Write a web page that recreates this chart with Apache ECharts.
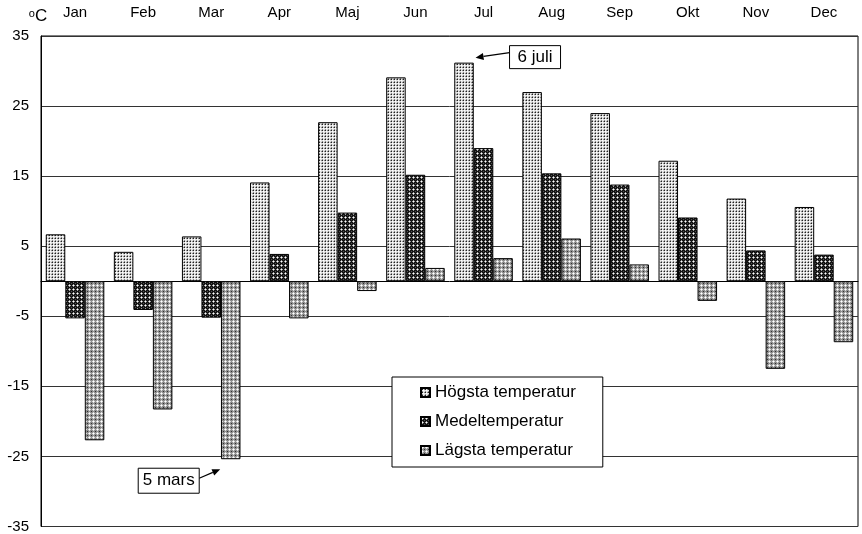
<!DOCTYPE html>
<html>
<head>
<meta charset="utf-8">
<script src="https://cdn.jsdelivr.net/npm/echarts@6/dist/echarts.min.js"></script>
<style>
html,body{margin:0;padding:0;background:#fff;}
#chart{width:862px;height:534px;}
</style>
</head>
<body>
<div id="chart"></div>
<script>
const months = ['Jan','Feb','Mar','Apr','Maj','Jun','Jul','Aug','Sep','Okt','Nov','Dec'];
const highTemp = [6.7, 4.2, 6.4, 14.1, 22.7, 29.1, 31.2, 27.0, 24.0, 17.2, 11.8, 10.6];
const meanTemp = [-5.3, -4.1, -5.2, 3.9, 9.8, 15.2, 19.0, 15.4, 13.8, 9.1, 4.4, 3.8];
const lowTemp = [-22.7, -18.3, -25.4, -5.3, -1.4, 1.9, 3.3, 6.1, 2.4, -2.8, -12.5, -8.7];
const seriesNames = ['Högsta temperatur', 'Medeltemperatur', 'Lägsta temperatur'];
const yTicks = {min: -35, max: 35, interval: 10};
const notes = [
  {text: '6 juli', month: 'Jul', value: 31.2},
  {text: '5 mars', month: 'Mar', value: -25.4}
];

function makePattern(size, bg, pixels) {
  const c = document.createElement('canvas');
  c.width = size; c.height = size;
  const ctx = c.getContext('2d');
  ctx.fillStyle = bg;
  ctx.fillRect(0, 0, size, size);
  pixels.forEach(p => { ctx.fillStyle = p[2]; ctx.fillRect(p[0], p[1], 1, 1); });
  return {image: c, repeat: 'repeat'};
}
const patHigh = makePattern(3, '#e4e4e4', [[1,1,'#222222'],[0,1,'#8c8c8c'],[1,0,'#8c8c8c'],[2,2,'#ffffff']]);
const patMean = makePattern(4, '#141414', [[1,1,'#ffffff'],[0,1,'#a0a0a0'],[2,1,'#a0a0a0'],[1,0,'#a0a0a0'],[1,2,'#a0a0a0'],[3,3,'#505050']]);
const patLow = makePattern(4, '#8e8e8e', [[1,1,'#ffffff'],[0,1,'#dddddd'],[2,1,'#dddddd'],[1,0,'#dddddd'],[1,2,'#dddddd'],[3,3,'#303030']]);

const chart = echarts.init(document.getElementById('chart'), null, {renderer: 'canvas'});
const barStyle = (pat) => ({color: pat, borderColor: '#000', borderWidth: 1});

chart.setOption({
  animation: false,
  textStyle: {fontFamily: 'Arial, "Liberation Sans", sans-serif'},
  grid: {left: 41, right: 4, top: 36, bottom: 7, show: true, borderColor: '#000', borderWidth: 1, backgroundColor: 'transparent'},
  legend: {
    orient: 'vertical', left: 392, top: 377,
    backgroundColor: '#fff', borderColor: '#000', borderWidth: 1,
    padding: [7, 27, 8, 28],
    itemWidth: 9, itemHeight: 9, itemGap: 12,
    icon: 'rect',
    textStyle: {fontSize: 17, color: '#000', fontFamily: 'Arial, "Liberation Sans", sans-serif', padding: [0,0,0,0]},
    data: seriesNames
  },
  xAxis: {
    type: 'category', position: 'top', data: months,
    axisLine: {show: true, lineStyle: {color: '#000'}},
    axisTick: {show: false},
    axisLabel: {fontSize: 15, color: '#000', margin: 16}
  },
  yAxis: {
    type: 'value', min: yTicks.min, max: yTicks.max, interval: yTicks.interval,
    axisLine: {show: true, lineStyle: {color: '#000'}},
    axisTick: {show: false},
    axisLabel: {fontSize: 15, color: '#000', margin: 12},
    splitLine: {show: true, lineStyle: {color: '#333', width: 1}},
    name: '{o|o}{c|C}',
    nameLocation: 'end', nameGap: 11,
    nameTextStyle: {
      align: 'center', padding: [0, 6, 0, 0],
      rich: {
        o: {fontSize: 11, color: '#000', verticalAlign: 'top', padding: [0,0,6,0]},
        c: {fontSize: 17, color: '#000'}
      }
    }
  },
  series: [
    {name: seriesNames[0], type: 'bar', data: highTemp, itemStyle: barStyle(patHigh), barGap: '0%', barCategoryGap: '14%'},
    {name: seriesNames[1], type: 'bar', data: meanTemp, itemStyle: barStyle(patMean), barGap: '0%', barCategoryGap: '14%'},
    {name: seriesNames[2], type: 'bar', data: lowTemp, itemStyle: barStyle(patLow), barGap: '0%', barCategoryGap: '14%'}
  ]
});

function arrowGraphics(x1, y1, x2, y2) {
  const ang = Math.atan2(y2 - y1, x2 - x1);
  const len = 8, w = 3.5;
  const bx = x2 - len * Math.cos(ang), by = y2 - len * Math.sin(ang);
  const px = -Math.sin(ang) * w, py = Math.cos(ang) * w;
  return [
    {type: 'line', shape: {x1: x1, y1: y1, x2: bx, y2: by}, style: {stroke: '#000', lineWidth: 1.2}},
    {type: 'polygon', shape: {points: [[x2, y2], [bx + px, by + py], [bx - px, by - py]]}, style: {fill: '#000'}}
  ];
}

function box(text, left, top, w, h) {
  return [
    {type: 'rect', shape: {x: left, y: top, width: w, height: h}, style: {fill: '#fff', stroke: '#000', lineWidth: 1}},
    {type: 'text', x: left + w / 2, y: top + h / 2, style: {text: text, fontSize: 17, fill: '#000', align: 'center', verticalAlign: 'middle', fontFamily: 'Arial, "Liberation Sans", sans-serif'}}
  ];
}

const g = [];
// 6 juli: arrow to top-right of July high bar
{
  const p = chart.convertToPixel({xAxisIndex: 0, yAxisIndex: 0}, [notes[0].month, notes[0].value]);
  const tipX = p[0] - 8, tipY = p[1] - 5;
  const bl = tipX + 34, bt = tipY - 12;
  g.push(...arrowGraphics(bl, tipY - 5, tipX, tipY));
  g.push(...box(notes[0].text, bl, bt, 51, 23));
}
// 5 mars: arrow to bottom of March low bar
{
  const p = chart.convertToPixel({xAxisIndex: 0, yAxisIndex: 0}, [notes[1].month, notes[1].value]);
  const tipX = p[0] + 9, tipY = p[1] + 10;
  const br = tipX - 21, bt = tipY - 1;
  g.push(...arrowGraphics(br, tipY + 9, tipX, tipY));
  g.push(...box(notes[1].text, br - 61, bt, 61, 25));
}
chart.setOption({graphic: g});
</script>
</body>
</html>
